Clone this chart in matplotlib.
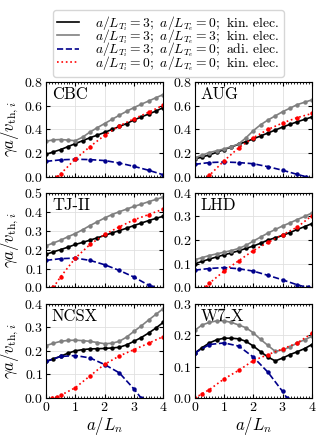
import numpy as np
import matplotlib
matplotlib.use("Agg")
from matplotlib import pyplot as plt
from matplotlib.ticker import MultipleLocator
from matplotlib.lines import Line2D

plt.rcParams['font.family'] = 'serif'
plt.rcParams['font.serif'] = ['cmr10']
plt.rcParams['mathtext.fontset'] = 'cm'
plt.rcParams['axes.formatter.use_mathtext'] = True
plt.rcParams['font.size'] = 10

names = ["CBC", "AUG", "TJ-II", "LHD", "NCSX", "W7-X"]
ymax = [0.8, 0.8, 0.5, 0.4, 0.4, 0.3]
ystep = [0.2, 0.2, 0.1, 0.1, 0.1, 0.1]

# a/L_Ti=3, a/L_Te=0, kinetic electrons (black)
xk = [0, 0.25, 0.5, 0.75, 1.0, 1.25, 1.5, 1.75, 2.0, 2.25, 2.5, 2.75, 3.0, 3.25, 3.5, 3.75, 4.0]
blk = {
    "CBC":  [0.19, 0.21, 0.23, 0.255, 0.28, 0.305, 0.33, 0.352, 0.375, 0.40, 0.425, 0.45, 0.48, 0.505, 0.53, 0.555, 0.585],
    "AUG":  [0.15, 0.167, 0.185, 0.207, 0.23, 0.252, 0.275, 0.297, 0.32, 0.345, 0.37, 0.395, 0.42, 0.443, 0.465, 0.485, 0.505],
    "TJ-II": [0.175, 0.188, 0.2, 0.213, 0.227, 0.238, 0.25, 0.262, 0.275, 0.288, 0.30, 0.313, 0.327, 0.34, 0.353, 0.365, 0.376],
    "LHD":  [0.10, 0.11, 0.12, 0.129, 0.138, 0.146, 0.155, 0.165, 0.175, 0.187, 0.2, 0.21, 0.22, 0.232, 0.245, 0.257, 0.27],
    "NCSX": [0.155, 0.166, 0.177, 0.19, 0.2, 0.205, 0.208, 0.209, 0.21, 0.212, 0.215, 0.225, 0.24, 0.256, 0.275, 0.296, 0.32],
    "W7-X": [0.143, 0.16, 0.175, 0.185, 0.19, 0.19, 0.188, 0.18, 0.165, 0.147, 0.13, 0.118, 0.127, 0.138, 0.147, 0.157, 0.17],
}
# a/L_Ti=3, a/L_Te=3, kinetic electrons (gray)
xg = [0, 0.25, 0.5, 0.75, 1.0, 1.25, 1.5, 1.75, 2.0, 2.25, 2.5, 2.75, 3.0, 3.25, 3.5, 3.75, 4.0]
gry = {
    "CBC":  [0.30, 0.312, 0.315, 0.31, 0.305, 0.335, 0.378, 0.415, 0.45, 0.485, 0.52, 0.553, 0.585, 0.613, 0.64, 0.668, 0.695],
    "AUG":  [0.16, 0.183, 0.205, 0.22, 0.235, 0.255, 0.278, 0.33, 0.39, 0.44, 0.48, 0.515, 0.55, 0.58, 0.61, 0.63, 0.65],
    "TJ-II": [0.22, 0.235, 0.25, 0.268, 0.285, 0.305, 0.327, 0.347, 0.367, 0.385, 0.40, 0.414, 0.428, 0.44, 0.453, 0.465, 0.478],
    "LHD":  [0.117, 0.126, 0.135, 0.142, 0.149, 0.156, 0.165, 0.178, 0.196, 0.213, 0.23, 0.245, 0.26, 0.273, 0.287, 0.3, 0.315],
    "NCSX": [0.222, 0.232, 0.24, 0.244, 0.245, 0.243, 0.24, 0.235, 0.23, 0.232, 0.24, 0.258, 0.282, 0.305, 0.33, 0.354, 0.378],
    "W7-X": [0.215, 0.232, 0.24, 0.245, 0.245, 0.24, 0.232, 0.223, 0.207, 0.186, 0.167, 0.148, 0.153, 0.162, 0.175, 0.185, 0.196],
}
# a/L_Ti=3, a/L_Te=0, adiabatic electrons (blue)
xa = {
    "CBC":  [0, 0.5, 1.0, 1.5, 2.0, 2.5, 3.0, 3.5, 4.0],
    "AUG":  [0, 0.5, 1.0, 1.5, 2.0, 2.5, 3.0, 3.5, 3.8],
    "TJ-II": [0, 0.5, 1.0, 1.5, 2.0, 2.5, 3.0, 3.5, 3.62],
    "LHD":  [0, 0.5, 1.0, 1.5, 2.0, 2.5, 3.0, 3.5, 3.85],
    "NCSX": [0, 0.5, 1.0, 1.5, 2.0, 2.5, 3.0, 3.25],
    "W7-X": [0, 0.5, 1.0, 1.5, 2.0, 2.5, 3.0, 3.15],
}
adi = {
    "CBC":  [0.13, 0.143, 0.148, 0.145, 0.137, 0.116, 0.088, 0.055, 0.017],
    "AUG":  [0.105, 0.12, 0.125, 0.12, 0.11, 0.085, 0.055, 0.02, 0.0],
    "TJ-II": [0.143, 0.152, 0.155, 0.143, 0.12, 0.09, 0.055, 0.012, 0.0],
    "LHD":  [0.073, 0.08, 0.084, 0.079, 0.069, 0.051, 0.032, 0.011, 0.0],
    "NCSX": [0.155, 0.176, 0.18, 0.17, 0.142, 0.107, 0.039, 0.0],
    "W7-X": [0.143, 0.17, 0.175, 0.165, 0.13, 0.082, 0.021, 0.0],
}
# a/L_Ti=0, a/L_Te=0, kinetic electrons (red)
xr = {
    "CBC":  [0.38, 0.5, 1.0, 1.5, 2.0, 2.5, 3.0, 3.5, 4.0],
    "AUG":  [0.45, 0.5, 1.0, 1.5, 2.0, 2.5, 3.0, 3.5, 4.0],
    "TJ-II": [0.25, 0.5, 1.0, 1.5, 2.0, 2.5, 3.0, 3.5, 4.0],
    "LHD":  [0.37, 0.5, 1.0, 1.5, 2.0, 2.5, 3.0, 3.5, 4.0],
    "NCSX": [0.2, 0.375, 0.5, 1.0, 1.5, 2.0, 2.5, 3.0, 3.5, 4.0],
    "W7-X": [0, 0.25, 0.5, 1.0, 1.5, 2.0, 2.5, 3.0, 3.5, 4.0],
}
red = {
    "CBC":  [0.0, 0.025, 0.15, 0.255, 0.35, 0.43, 0.49, 0.545, 0.605],
    "AUG":  [0.0, 0.012, 0.135, 0.245, 0.33, 0.40, 0.455, 0.50, 0.535],
    "TJ-II": [0.0, 0.057, 0.155, 0.227, 0.28, 0.32, 0.357, 0.385, 0.414],
    "LHD":  [0.0, 0.018, 0.069, 0.113, 0.156, 0.19, 0.223, 0.255, 0.303],
    "NCSX": [0.0, 0.006, 0.012, 0.044, 0.094, 0.143, 0.178, 0.205, 0.232, 0.26],
    "W7-X": [0.0, 0.014, 0.027, 0.061, 0.088, 0.119, 0.138, 0.156, 0.175, 0.205],
}

labels = [r"$a/L_{T_i}=3;\ a/L_{T_e}=0;$ kin. elec.",
          r"$a/L_{T_i}=3;\ a/L_{T_e}=3;$ kin. elec.",
          r"$a/L_{T_i}=3;\ a/L_{T_e}=0;$ adi. elec.",
          r"$a/L_{T_i}=0;\ a/L_{T_e}=0;$ kin. elec."]

fig, axs = plt.subplots(3, 2, figsize=(3.29, 4.37), dpi=100)
fig.subplots_adjust(left=0.14, right=0.948, top=0.812, bottom=0.089, wspace=0.27, hspace=0.17)

for i, n in enumerate(names):
    ax = axs[i // 2, i % 2]
    ax.plot(xk, blk[n], '-', color='black', lw=1.2, marker='o', ms=2.2)
    ax.plot(xg, gry[n], '-', color='gray', lw=1.2, marker='o', ms=2.2)
    ax.plot(xa[n], adi[n], '--', color='darkblue', lw=1.2, marker='o', ms=2.2)
    ax.plot(xr[n], red[n], ':', color='red', lw=1.2, marker='o', ms=2.2)
    ax.set_xlim(0, 4)
    ax.set_ylim(0, ymax[i])
    ax.xaxis.set_major_locator(MultipleLocator(1))
    ax.xaxis.set_minor_locator(MultipleLocator(0.1))
    ax.yaxis.set_major_locator(MultipleLocator(ystep[i]))
    ax.tick_params(which='both', direction='in', top=True, right=True, labelsize=10, pad=2)
    ax.tick_params(which='major', length=3)
    ax.tick_params(which='minor', length=1.5)
    ax.grid(True, color='#e0e0e0', lw=0.6)
    ax.set_axisbelow(True)
    ax.text(0.05, 0.95, n, transform=ax.transAxes, ha='left', va='top', fontsize=12)
    if i // 2 < 2:
        ax.set_xticklabels([])
    else:
        ax.set_xlabel(r"$a/L_n$", fontsize=12, labelpad=1)
    if i % 2 == 0:
        ax.set_ylabel(r"$\gamma a/v_{\mathrm{th},i}$", fontsize=12, labelpad=2)

handles = [Line2D([], [], color='black', ls='-', lw=1.2),
           Line2D([], [], color='gray', ls='-', lw=1.2),
           Line2D([], [], color='darkblue', ls='--', lw=1.2),
           Line2D([], [], color='red', ls=':', lw=1.2)]
fig.legend(handles, labels, loc='upper center', bbox_to_anchor=(0.512, 0.993),
           fontsize=9.8, handlelength=1.6, labelspacing=-0.42, borderpad=0.3,
           handletextpad=1.2)

fig.savefig("out.png", dpi=100)
